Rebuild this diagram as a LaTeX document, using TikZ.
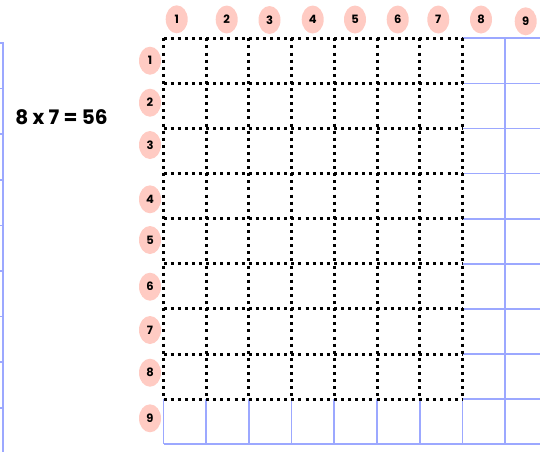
\documentclass[tikz,border=0pt]{standalone}
\usepackage{xcolor}
\usepackage{fontspec}
\setmainfont{Poppins}
\usepackage{tikz}
\usetikzlibrary{shapes.geometric}

\definecolor{gridblue}{HTML}{9CA8FF}
\definecolor{labpink}{HTML}{FFCBC3}

\begin{document}
\begin{tikzpicture}[x=1pt, y=-1pt,
    bluegrid/.style={draw=gridblue, line width=1.7pt},
    dotgrid/.style={draw=black, line width=3pt, dash pattern=on 3pt off 4.1pt},
    numlabel/.style={ellipse, fill=labpink, minimum width=22pt, minimum height=28pt,
                     inner sep=0pt, font=\fontsize{11.5}{13}\selectfont\bfseries},
    eqn/.style={font=\fontsize{20}{24}\selectfont\bfseries}
  ]
    \useasboundingbox (0,0) rectangle (540,451);
    \def\cw{42.7}
    \def\rh{45.1}

    % blue grid outside the dotted part
    \begin{scope}
      \clip (0,0) rectangle (540,451);
      \foreach \j in {0,...,8}
        \draw[bluegrid] (462.4,38.3+\j*\rh) -- (560,38.3+\j*\rh);
      \draw[bluegrid] (163.5,444.2) -- (560,444.2);
      \draw[bluegrid] (505.1,38.3) -- (505.1,444.2);
      \foreach \i in {0,...,7}
        \draw[bluegrid] (163.5+\i*\cw,399.1) -- (163.5+\i*\cw,444.2);
      % partial grid on the left edge
      \draw[bluegrid] (-2,43) -- (3,43) -- (3,460);
      \foreach \j in {1,...,8}
        \draw[bluegrid] (-2,43+\j*45.6) -- (3,43+\j*45.6);
    \end{scope}

    % dotted 7 x 8 block
    \foreach \i in {0,...,7}
      \draw[dotgrid] (163.5+\i*\cw,38.3) -- (163.5+\i*\cw,399.1);
    \foreach \j in {0,...,8}
      \draw[dotgrid] (163.5,38.3+\j*\rh) -- (462.4,38.3+\j*\rh);

    % column numbers
    \foreach \n/\x/\y in {1/176.7/19.3, 2/226.7/19.5, 3/269.5/20, 4/312.7/19.5, 5/355/19.5,
                          6/397.7/19.5, 7/438.3/19.5, 8/481/19.5, 9/525.7/21.3}
      \node[numlabel] (col\n) at (\x,\y) {\n};

    % row numbers
    \foreach \n/\y in {1/60.7, 2/102.7, 3/145, 4/199.3, 5/240, 6/286.7, 7/330, 8/372.7, 9/418.3}
      \node[numlabel] (row\n) at (150,\y) {\n};

    \node[eqn] (prod) at (61.5,117) {8 x 7 = 56};
  \end{tikzpicture}
\end{document}
